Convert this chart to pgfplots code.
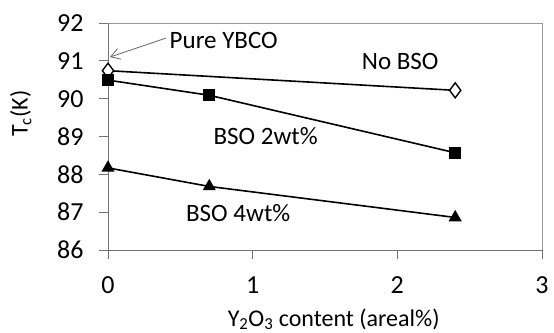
\documentclass[border=0pt]{standalone}
\usepackage{fontspec}
\setmainfont{Carlito}
\usepackage{pgfplots}
\pgfplotsset{compat=1.18}
\usetikzlibrary{arrows.meta}
\begin{document}
\fontsize{25bp}{29bp}\selectfont
\begin{tikzpicture}
\useasboundingbox (-108bp,-83bp) rectangle (446bp,250bp);
\begin{axis}[
  at={(0,0)}, anchor=south west,
  scale only axis, width=434bp, height=227bp,
  xmin=0, xmax=3, ymin=86, ymax=92,
  xtick={0,1,2,3}, ytick={86,87,88,89,90,91,92},
  axis x line*=bottom, axis y line*=left,
  axis line style={black!55, line width=0.9bp},
  tick style={black!55, line width=0.9bp},
  tick align=outside,
  major tick length=9bp,
  /pgf/number format/assume math mode=true,
  tick label style={font=\fontsize{26bp}{30bp}\selectfont, text=black},
  xticklabel style={yshift=-9bp},
  yticklabel style={xshift=-7bp},
  clip=false,
  xlabel={Y\textsubscript{2}O\textsubscript{3} content (areal\%)},
  xlabel style={font=\fontsize{24bp}{28bp}\selectfont, text=black, at={(axis description cs:0.52,0)}, anchor=north, yshift=-50bp},
  ylabel={T\textsubscript{c}(K)},
  ylabel style={font=\fontsize{24bp}{28bp}\selectfont, text=black, at={(axis description cs:0,0.6)}, anchor=south, yshift=68bp},
]
\draw[black!40, line width=0.9bp] (rel axis cs:0,1) -- (rel axis cs:1,1) -- (rel axis cs:1,0);
\addplot[black, line width=1.6bp, mark=diamond*, mark options={fill=white, line width=1.4bp}, mark size=7.5bp]
  coordinates {(0,90.74) (2.4,90.22)};
\addplot[black, line width=1.6bp, mark=square*, mark size=5bp]
  coordinates {(0,90.49) (0.7,90.09) (2.4,88.57)};
\addplot[black, line width=1.6bp, mark=triangle*, mark size=6bp]
  coordinates {(0,88.17) (0.7,87.68) (2.4,86.86)};
\node[text=black] at (axis cs:0.80,91.55) {Pure YBCO};
\node[text=black] at (axis cs:2.02,90.97) {No BSO};
\node[text=black] at (axis cs:1.09,89.01) {BSO 2wt\%};
\node[text=black] at (axis cs:0.90,86.98) {BSO 4wt\%};
\draw[black!60, line width=0.8bp, -{Straight Barb[length=9bp,width=11bp]}] (axis cs:0.40,91.60) -- (axis cs:0.014,91.10);
\end{axis}
\end{tikzpicture}
\end{document}
